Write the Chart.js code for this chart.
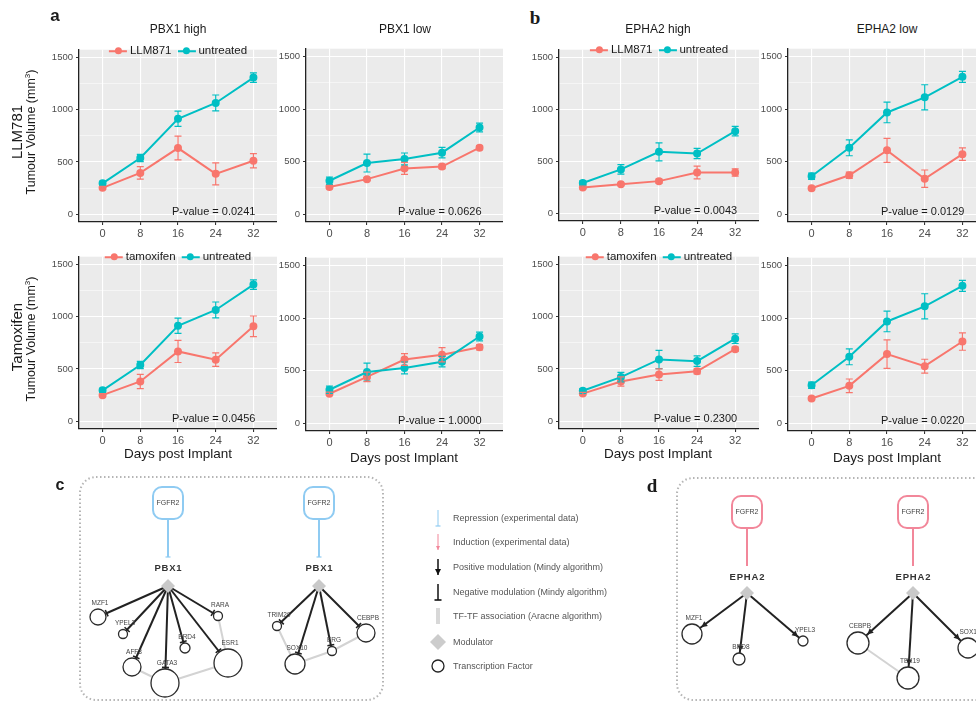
<!DOCTYPE html>
<html lang="en">
<head>
<meta charset="UTF-8">
<title>Tumour volume and FGFR2 modulator networks</title>
<script src="https://cdn.jsdelivr.net/npm/chart.js"></script>
<style>
  body { margin: 0; background: #fff; font-family: "Liberation Sans", Arial, sans-serif; color: #1a1a1a; }
  #page { position: relative; width: 976px; height: 707px; overflow: hidden; }
  canvas { position: absolute; }
  .t { position: absolute; white-space: nowrap; line-height: 1; }
  .c { transform: translate(-50%, -50%); }
  .rot { transform: translate(-50%, -50%) rotate(-90deg); }
  .letter { font-weight: bold; font-size: 17px; }
  .serif { font-family: "Liberation Serif", "DejaVu Serif", serif; font-size: 19px; }
  .title { font-size: 12px; }
  .xlab { font-size: 13.5px; }
  .pval { font-size: 11px; transform: translateY(-50%); }
  .legend { font-size: 11.5px; transform: translate(-50%, -50%); }
  .key { display: inline-block; width: 18px; height: 2px; vertical-align: middle; position: relative; margin: 0 3px 0 0; }
  .key::after { content: ''; position: absolute; left: 5.5px; top: -2.5px; width: 7px; height: 7px; border-radius: 50%; background: inherit; }
  .gap { display: inline-block; width: 6px; }
  .red { background: #F8766D; }
  .teal { background: #00BFC4; }
  .nlg { font-size: 9px; color: #555; transform: translateY(-50%); }
</style>
</head>
<body>
<div id="page">
  <canvas id="net" width="976" height="237" style="left:0;top:470px"></canvas>

  <div class="t letter c" style="left:55px;top:15px">a</div>
  <div class="t letter serif c" style="left:535px;top:17px">b</div>
  <div class="t letter c" style="left:60px;top:485px;font-size:16px">c</div>
  <div class="t letter serif c" style="left:652px;top:485px">d</div>

  <div class="t title c" style="left:178px;top:29px">PBX1 high</div>
  <div class="t title c" style="left:405px;top:29px">PBX1 low</div>
  <div class="t title c" style="left:658px;top:29px">EPHA2 high</div>
  <div class="t title c" style="left:887px;top:29px">EPHA2 low</div>

  <div class="t rot" style="left:16px;top:132px;font-size:15px">LLM781</div>
  <div class="t rot" style="left:31px;top:132px;font-size:12.5px">Tumour Volume (mm<sup style="font-size:8px">3</sup>)</div>
  <div class="t rot" style="left:16px;top:337px;font-size:15px">Tamoxifen</div>
  <div class="t rot" style="left:31px;top:339px;font-size:12.5px">Tumour Volume (mm<sup style="font-size:8px">3</sup>)</div>

  <div class="t xlab c" style="left:178px;top:454px">Days post Implant</div>
  <div class="t xlab c" style="left:404px;top:458px">Days post Implant</div>
  <div class="t xlab c" style="left:658px;top:454px">Days post Implant</div>
  <div class="t xlab c" style="left:887px;top:458px">Days post Implant</div>

  <div class="t nlg" style="left:453px;top:518px">Repression (experimental data)</div>
  <div class="t nlg" style="left:453px;top:542px">Induction (experimental data)</div>
  <div class="t nlg" style="left:453px;top:567px">Positive modulation (Mindy algorithm)</div>
  <div class="t nlg" style="left:453px;top:592px">Negative modulation (Mindy algorithm)</div>
  <div class="t nlg" style="left:453px;top:616px">TF-TF association (Aracne algorithm)</div>
  <div class="t nlg" style="left:453px;top:642px">Modulator</div>
  <div class="t nlg" style="left:453px;top:666px">Transcription Factor</div>
</div>

<script>
  Chart.defaults.font.family = "'Liberation Sans', Arial, sans-serif";
  const RED = '#F8766D', TEAL = '#00BFC4';

  // ---- tumour volume data (mm3), days post implant ----
  const days = [0, 8, 16, 24, 32];
  const yTicks = [0, 500, 1000, 1500];
  const yMinor = [250, 750, 1250];

  const pbx1HighUntreated = [295, 538, 913, 1065, 1308];
  const pbx1HighUntreatedErr = [20, 35, 73, 76, 45];
  const pbx1LowUntreated = [318, 486, 525, 585, 825];
  const pbx1LowUntreatedErr = [35, 85, 57, 50, 42];
  const pbx1HighLLM871 = [252, 395, 633, 386, 511];
  const pbx1HighLLM871Err = [15, 60, 114, 106, 68];
  const pbx1LowLLM871 = [258, 333, 435, 453, 633];
  const pbx1LowLLM871Err = [15, 15, 57, 20, 20];
  const pbx1HighTamoxifen = [249, 380, 668, 589, 908];
  const pbx1HighTamoxifenErr = [15, 68, 106, 65, 99];
  const pbx1LowTamoxifen = [280, 440, 605, 651, 723];
  const pbx1LowTamoxifenErr = [15, 45, 56, 68, 25];

  const epha2HighUntreated = [291, 422, 591, 575, 790];
  const epha2HighUntreatedErr = [20, 46, 87, 50, 46];
  const epha2LowUntreated = [361, 631, 968, 1112, 1307];
  const epha2LowUntreatedErr = [30, 75, 98, 120, 52];
  const epha2HighLLM871 = [248, 279, 309, 392, 392];
  const epha2HighLLM871Err = [12, 12, 20, 61, 35];
  const epha2LowLLM871 = [246, 370, 607, 337, 571];
  const epha2LowLLM871Err = [12, 30, 114, 83, 60];
  const epha2HighTamoxifen = [264, 380, 446, 477, 689];
  const epha2HighTamoxifenErr = [12, 45, 55, 25, 20];
  const epha2LowTamoxifen = [235, 355, 657, 542, 777];
  const epha2LowTamoxifenErr = [12, 65, 135, 66, 83];

  const pValues = ['0.0241', '0.0626', '0.0043', '0.0129', '0.0456', '1.0000', '0.2300', '0.0220'];

  // ---- network data ----
  const modNames = ['PBX1', 'PBX1', 'EPHA2', 'EPHA2'];
  const modX = [168, 319, 747, 913];
  const modY = [586, 586, 593, 593];
  const modLabelY = [568, 568, 577, 577];
  const modEffect = ['negative', 'negative', 'positive', 'positive'];
  const upName = 'FGFR2';
  const upY = [503, 503, 512, 512];
  const upEffect = ['repression', 'repression', 'induction', 'induction'];

  const tfNames = ['MZF1', 'YPEL3', 'AFF3', 'GATA3', 'BRD4', 'ESR1', 'RARA', 'TRIM29', 'SOX10', 'ERG', 'CEBPB',
                   'MZF1', 'BRD8', 'YPEL3', 'CEBPB', 'TEX19', 'SOX10'];
  const tfMod = [0, 0, 0, 0, 0, 0, 0, 1, 1, 1, 1, 2, 2, 2, 3, 3, 3];
  const tfX = [98, 123, 132, 165, 185, 228, 218, 277, 295, 332, 366, 692, 739, 803, 858, 908, 968];
  const tfY = [617, 634, 667, 683, 648, 663, 616, 626, 664, 651, 633, 634, 659, 641, 643, 678, 648];
  const tfR = [8, 4.5, 9, 14, 5, 14, 4.5, 4.5, 10, 4.5, 9, 10, 6, 5, 11, 11, 10];
  const assocPairs = [[6, 5], [3, 5], [2, 3], [7, 8], [8, 9], [9, 10], [14, 15]];

  const legendKinds = ['repression', 'induction', 'positive', 'negative', 'association', 'modulator', 'tf'];
  const legendY = [518, 542, 567, 592, 616, 642, 666];

  // ---- panel layout ----
  const panels = [
    { left: 79, top: 41, w: 198, h: 181, ctrl: pbx1HighUntreated, ctrlErr: pbx1HighUntreatedErr, treat: pbx1HighLLM871, treatErr: pbx1HighLLM871Err, name: 'LLM871', legend: [178, 51] },
    { left: 306, top: 40, w: 197, h: 182, ctrl: pbx1LowUntreated, ctrlErr: pbx1LowUntreatedErr, treat: pbx1LowLLM871, treatErr: pbx1LowLLM871Err, name: 'LLM871' },
    { left: 559, top: 41, w: 200, h: 180, ctrl: epha2HighUntreated, ctrlErr: epha2HighUntreatedErr, treat: epha2HighLLM871, treatErr: epha2HighLLM871Err, name: 'LLM871', legend: [659, 50] },
    { left: 788, top: 40, w: 198, h: 182, ctrl: epha2LowUntreated, ctrlErr: epha2LowUntreatedErr, treat: epha2LowLLM871, treatErr: epha2LowLLM871Err, name: 'LLM871' },
    { left: 79, top: 248, w: 198, h: 181, ctrl: pbx1HighUntreated, ctrlErr: pbx1HighUntreatedErr, treat: pbx1HighTamoxifen, treatErr: pbx1HighTamoxifenErr, name: 'tamoxifen', legend: [178, 257] },
    { left: 306, top: 249, w: 197, h: 182, ctrl: pbx1LowUntreated, ctrlErr: pbx1LowUntreatedErr, treat: pbx1LowTamoxifen, treatErr: pbx1LowTamoxifenErr, name: 'tamoxifen' },
    { left: 559, top: 248, w: 200, h: 181, ctrl: epha2HighUntreated, ctrlErr: epha2HighUntreatedErr, treat: epha2HighTamoxifen, treatErr: epha2HighTamoxifenErr, name: 'tamoxifen', legend: [659, 257] },
    { left: 788, top: 249, w: 198, h: 182, ctrl: epha2LowUntreated, ctrlErr: epha2LowUntreatedErr, treat: epha2LowTamoxifen, treatErr: epha2LowTamoxifenErr, name: 'tamoxifen' }
  ];

  const page = document.getElementById('page');

  const panelBg = {
    id: 'panelBg',
    beforeDraw(chart) {
      const { ctx, chartArea: a } = chart;
      ctx.save();
      ctx.fillStyle = '#EBEBEB';
      ctx.fillRect(a.left, a.top, a.right - a.left, a.bottom - a.top);
      ctx.restore();
    }
  };

  const errorBars = {
    id: 'errorBars',
    afterDatasetsDraw(chart) {
      const { ctx, scales: { x, y } } = chart;
      chart.data.datasets.forEach(ds => {
        ctx.save();
        ctx.strokeStyle = ds.borderColor;
        ctx.lineWidth = 1.2;
        ds.data.forEach((p, i) => {
          const px = x.getPixelForValue(p.x);
          const hi = y.getPixelForValue(p.y + ds.err[i]);
          const lo = y.getPixelForValue(p.y - ds.err[i]);
          ctx.beginPath();
          ctx.moveTo(px, hi); ctx.lineTo(px, lo);
          ctx.moveTo(px - 3.5, hi); ctx.lineTo(px + 3.5, hi);
          ctx.moveTo(px - 3.5, lo); ctx.lineTo(px + 3.5, lo);
          ctx.stroke();
        });
        ctx.restore();
      });
    }
  };

  function series(vals) {
    return days.map((d, i) => ({ x: d, y: vals[i] }));
  }

  panels.forEach((p, k) => {
    const cv = document.createElement('canvas');
    cv.width = p.w + 40;
    cv.height = p.h + 22;
    cv.style.left = (p.left - 40) + 'px';
    cv.style.top = p.top + 'px';
    page.insertBefore(cv, page.children[1]);

    new Chart(cv, {
      type: 'line',
      data: {
        datasets: [
          { label: 'untreated', data: series(p.ctrl), err: p.ctrlErr, borderColor: TEAL, backgroundColor: TEAL, borderWidth: 2, pointRadius: 3, pointHoverRadius: 3 },
          { label: p.name, data: series(p.treat), err: p.treatErr, borderColor: RED, backgroundColor: RED, borderWidth: 2, pointRadius: 3, pointHoverRadius: 3 }
        ]
      },
      options: {
        responsive: false,
        animation: false,
        layout: { padding: 0, autoPadding: false },
        plugins: { legend: { display: false }, tooltip: { enabled: false } },
        scales: {
          x: {
            type: 'linear', min: -5, max: 37,
            afterBuildTicks: s => { s.ticks = days.map(v => ({ value: v })); },
            afterFit: s => { s.height = 22; },
            ticks: { color: '#4D4D4D', font: { size: 11 }, padding: 2, maxRotation: 0, autoSkip: false },
            grid: { color: '#FFFFFF', lineWidth: 1.1, tickColor: '#333333', tickLength: 3 },
            border: { color: '#222222', width: 1.3 }
          },
          y: {
            type: 'linear', min: -75, max: 1575,
            afterBuildTicks: s => { s.ticks = yTicks.concat(yMinor).sort((a, b) => a - b).map(v => ({ value: v })); },
            afterFit: s => { s.width = 40; },
            ticks: { color: '#4D4D4D', font: { size: 9.5 }, padding: 3, autoSkip: false,
                     callback: v => yTicks.includes(v) ? v : '' },
            grid: {
              color: '#FFFFFF',
              lineWidth: c => (c.tick && yMinor.includes(c.tick.value)) ? 0.5 : 1.1,
              tickColor: c => (c.tick && yMinor.includes(c.tick.value)) ? 'rgba(0,0,0,0)' : '#333333',
              tickLength: 3
            },
            border: { color: '#222222', width: 1.3 }
          }
        }
      },
      plugins: [panelBg, errorBars]
    });

    // p-value, right aligned at day 32
    const pv = document.createElement('div');
    pv.className = 't pval';
    const xr = p.left + 37 * p.w / 42 + 2;
    pv.style.right = (976 - xr) + 'px';
    pv.style.top = (p.top + p.h - 11) + 'px';
    pv.textContent = 'P-value = ' + pValues[k];
    page.appendChild(pv);

    if (p.legend) {
      const lg = document.createElement('div');
      lg.className = 't legend';
      lg.style.left = p.legend[0] + 'px';
      lg.style.top = p.legend[1] + 'px';
      lg.innerHTML = '<span class="key red"></span>' + p.name + '<span class="gap"></span><span class="key teal"></span>untreated';
      page.appendChild(lg);
    }
  });

  // ---- networks ----
  const upColor = { repression: '#8FCBF2', induction: '#F2879A' };

  function marker(ctx, kind, x0, y0, x1, y1, color) {
    const dx = x1 - x0, dy = y1 - y0, len = Math.hypot(dx, dy);
    const ux = dx / len, uy = dy / len, px = -uy, py = ux;
    ctx.save();
    ctx.strokeStyle = color; ctx.fillStyle = color;
    if (kind === 'positive' || kind === 'induction') {
      const s = kind === 'positive' ? 6 : 4, hw = kind === 'positive' ? 3 : 2;
      ctx.beginPath();
      ctx.moveTo(x1, y1);
      ctx.lineTo(x1 - ux * s + px * hw, y1 - uy * s + py * hw);
      ctx.lineTo(x1 - ux * s - px * hw, y1 - uy * s - py * hw);
      ctx.closePath();
      ctx.fill();
    } else {
      const hw = kind === 'negative' ? 3.5 : 2.5;
      ctx.lineWidth = kind === 'negative' ? 1.6 : 1.2;
      ctx.beginPath();
      ctx.moveTo(x1 + px * hw, y1 + py * hw);
      ctx.lineTo(x1 - px * hw, y1 - py * hw);
      ctx.stroke();
    }
    ctx.restore();
  }

  const networkDraw = {
    id: 'networkDraw',
    beforeDatasetsDraw(chart) {
      const { ctx, scales: { x, y } } = chart;
      ctx.save();
      ctx.strokeStyle = '#B5B5B5';
      ctx.lineWidth = 2;
      ctx.setLineDash([1.5, 2.5]);
      [[80, 477, 383, 700], [677, 478, 995, 700]].forEach(f => {
        ctx.beginPath();
        ctx.roundRect(x.getPixelForValue(f[0]), y.getPixelForValue(f[1]),
          x.getPixelForValue(f[2]) - x.getPixelForValue(f[0]), y.getPixelForValue(f[3]) - y.getPixelForValue(f[1]), 16);
        ctx.stroke();
      });
      ctx.restore();
    },
    afterDatasetsDraw(chart) {
      const { ctx, scales: { x, y } } = chart;
      // modulation edge ends
      tfNames.forEach((n, i) => {
        const m = tfMod[i];
        const x0 = x.getPixelForValue(modX[m]), y0 = y.getPixelForValue(modY[m]);
        const cx = x.getPixelForValue(tfX[i]), cy = y.getPixelForValue(tfY[i]);
        const d = Math.hypot(cx - x0, cy - y0), g = (tfR[i] + 1.5) / d;
        marker(ctx, modEffect[m], x0, y0, cx - (cx - x0) * g, cy - (cy - y0) * g, '#222');
      });
      // upstream boxes and labels
      modNames.forEach((n, m) => {
        const mx = x.getPixelForValue(modX[m]);
        const uy = y.getPixelForValue(upY[m]);
        const ey = y.getPixelForValue(modLabelY[m] - 11);
        const col = upColor[upEffect[m]];
        if (upEffect[m] === 'repression') marker(ctx, 'repression', mx, uy, mx, ey, col);
        ctx.save();
        ctx.fillStyle = '#fff';
        ctx.strokeStyle = col;
        ctx.lineWidth = 2;
        ctx.beginPath();
        ctx.roundRect(mx - 15, uy - 16, 30, 32, 9);
        ctx.fill(); ctx.stroke();
        ctx.fillStyle = '#444';
        ctx.font = '7px "Liberation Sans", Arial, sans-serif';
        ctx.textAlign = 'center'; ctx.textBaseline = 'middle';
        ctx.fillText(upName, mx, uy);
        ctx.font = 'bold 9.5px "Liberation Sans", Arial, sans-serif';
        ctx.fillStyle = '#333';
        ctx.fillText(n.split('').join(String.fromCharCode(8202)), mx, y.getPixelForValue(modLabelY[m]));
        ctx.restore();
      });
      // TF labels
      ctx.save();
      ctx.font = '6.5px "Liberation Sans", Arial, sans-serif';
      ctx.fillStyle = '#444';
      ctx.textAlign = 'center'; ctx.textBaseline = 'middle';
      tfNames.forEach((n, i) => {
        ctx.fillText(n, x.getPixelForValue(tfX[i] + 2), y.getPixelForValue(tfY[i] - tfR[i] - 6));
      });
      ctx.restore();
      // legend symbols
      const lx = x.getPixelForValue(438);
      legendKinds.forEach((k, i) => {
        const cy = y.getPixelForValue(legendY[i]);
        ctx.save();
        if (k === 'modulator') {
          ctx.fillStyle = '#CCCCCC';
          ctx.beginPath();
          ctx.moveTo(lx, cy - 8); ctx.lineTo(lx + 8, cy); ctx.lineTo(lx, cy + 8); ctx.lineTo(lx - 8, cy);
          ctx.closePath(); ctx.fill();
        } else if (k === 'tf') {
          ctx.strokeStyle = '#222'; ctx.lineWidth = 1.3;
          ctx.beginPath(); ctx.arc(lx, cy, 6, 0, Math.PI * 2); ctx.stroke();
        } else {
          const col = k === 'repression' ? upColor.repression : k === 'induction' ? upColor.induction : k === 'association' ? '#D8D8D8' : '#111';
          ctx.strokeStyle = col;
          ctx.lineWidth = k === 'association' ? 4 : (k === 'positive' || k === 'negative') ? 1.5 : 1;
          ctx.beginPath(); ctx.moveTo(lx, cy - 8); ctx.lineTo(lx, cy + 8); ctx.stroke();
          if (k !== 'association') marker(ctx, k, lx, cy - 8, lx, cy + 8, col);
        }
        ctx.restore();
      });
    }
  };

  const netDatasets = [
    { data: tfNames.map((n, i) => ({ x: tfX[i], y: tfY[i] })), pointRadius: c => tfR[c.dataIndex], pointHoverRadius: c => tfR[c.dataIndex],
      backgroundColor: '#fff', borderColor: '#2B2B2B', borderWidth: 1.3, order: 0 },
    { data: modNames.map((n, m) => ({ x: modX[m], y: modY[m] })), pointStyle: 'rectRot', pointRadius: 7, pointHoverRadius: 7,
      backgroundColor: '#C9C9C9', borderWidth: 0, order: 0 }
  ];
  tfNames.forEach((n, i) => {
    const m = tfMod[i];
    netDatasets.push({ data: [{ x: modX[m], y: modY[m] }, { x: tfX[i], y: tfY[i] }], showLine: true, pointRadius: 0,
      borderColor: '#222', borderWidth: 2, order: 1 });
  });
  modNames.forEach((n, m) => {
    netDatasets.push({ data: [{ x: modX[m], y: upY[m] }, { x: modX[m], y: modLabelY[m] - 11 }], showLine: true, pointRadius: 0,
      borderColor: upColor[upEffect[m]], borderWidth: 2, order: 1 });
  });
  assocPairs.forEach(([a, b]) => {
    netDatasets.push({ data: [{ x: tfX[a], y: tfY[a] }, { x: tfX[b], y: tfY[b] }], showLine: true, pointRadius: 0,
      borderColor: '#D3D3D3', borderWidth: 2, order: 2 });
  });

  new Chart(document.getElementById('net'), {
    type: 'scatter',
    data: { datasets: netDatasets },
    options: {
      responsive: false,
      animation: false,
      layout: { padding: 0, autoPadding: false },
      plugins: { legend: { display: false }, tooltip: { enabled: false } },
      scales: {
        x: { type: 'linear', min: 0, max: 976, display: false },
        y: { type: 'linear', min: 470, max: 707, reverse: true, display: false }
      }
    },
    plugins: [networkDraw]
  });
</script>
</body>
</html>
